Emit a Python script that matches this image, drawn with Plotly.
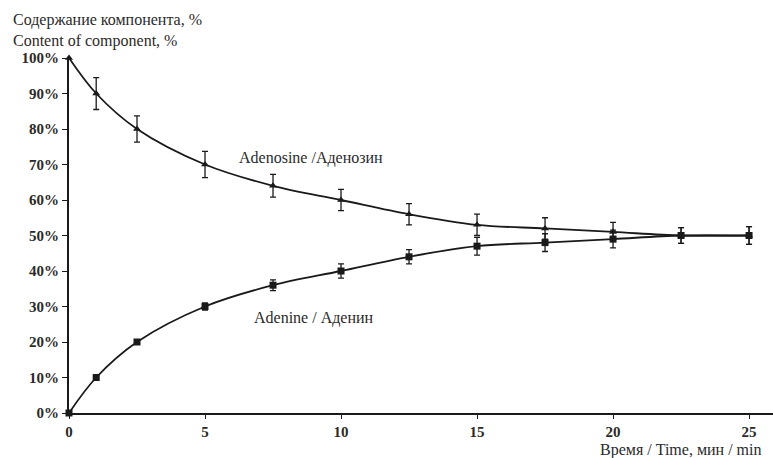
import plotly.graph_objects as go

time_min = [0, 1, 2.5, 5, 7.5, 10, 12.5, 15, 17.5, 20, 22.5, 25]
adenosine = [100, 90, 80, 70, 64, 60, 56, 53, 52, 51, 50, 50]
adenosine_err = [0, 4.5, 3.7, 3.7, 3.2, 3, 3, 3, 3, 2.7, 2.2, 2.5]
adenine = [0, 10, 20, 30, 36, 40, 44, 47, 48, 49, 50, 50]
adenine_err = [0, 0.4, 0.4, 1, 1.5, 2, 2, 2.5, 2.5, 2.5, 2.2, 2.5]

x_ticks = [0, 5, 10, 15, 20, 25]
y_ticks = [0, 10, 20, 30, 40, 50, 60, 70, 80, 90, 100]
y_tick_labels = [f"{v}%" for v in y_ticks]

FONT = "Liberation Serif"
INK = "#1a1a1a"
TXT = "#2a2a2a"

fig = go.Figure()
fig.add_trace(go.Scatter(
    x=time_min, y=adenosine, mode="lines+markers", line=dict(color=INK, width=1.8, shape="spline"),
    marker=dict(symbol="triangle-up", size=7, color=INK),
    error_y=dict(type="data", array=adenosine_err, color=INK, thickness=1.3, width=3),
    cliponaxis=False, showlegend=False,
))
fig.add_trace(go.Scatter(
    x=time_min, y=adenine, mode="lines+markers", line=dict(color=INK, width=1.8, shape="spline"),
    marker=dict(symbol="square", size=7, color=INK),
    error_y=dict(type="data", array=adenine_err, color=INK, thickness=1.3, width=3),
    cliponaxis=False, showlegend=False,
))

fig.add_annotation(x=8.9, y=71.8, text="Adenosine /Аденозин", showarrow=False,
                   font=dict(family=FONT, size=16, color=TXT))
fig.add_annotation(x=9.0, y=26.8, text="Adenine / Аденин", showarrow=False,
                   font=dict(family=FONT, size=16, color=TXT))
fig.add_annotation(xref="paper", yref="paper", x=(764 - 69) / 704, y=-(450 - 413) / 355,
                   xanchor="right", yanchor="middle",
                   text="Время / Time, мин / min", showarrow=False,
                   font=dict(family=FONT, size=16, color=TXT))
fig.add_annotation(xref="paper", yref="paper", x=-(69 - 11) / 704, y=(413 - 9) / 355,
                   xanchor="left", yanchor="top",
                   align="left", text="Содержание компонента, %<br>Content of component, %",
                   showarrow=False, font=dict(family=FONT, size=16, color=TXT))

fig.update_xaxes(range=[0, 25.88], tickvals=x_ticks, showgrid=False, zeroline=False,
                 showline=True, linecolor=INK, linewidth=2, ticks="outside", ticklen=4,
                 tickcolor=INK, tickfont=dict(family=FONT, size=15, color=TXT, weight="bold"))
fig.update_yaxes(range=[0, 100], tickvals=y_ticks, ticktext=y_tick_labels, showgrid=False,
                 zeroline=False, showline=True, linecolor=INK, linewidth=2, ticks="outside",
                 ticklen=5, tickcolor=INK, tickfont=dict(family=FONT, size=15, color=TXT, weight="bold"))

fig.update_layout(width=773, height=458, margin=dict(l=69, r=0, t=58, b=45),
                  plot_bgcolor="white", paper_bgcolor="white")
fig.write_html("out.html", config={"displayModeBar": False},
               post_script="document.body.style.margin='0';")
